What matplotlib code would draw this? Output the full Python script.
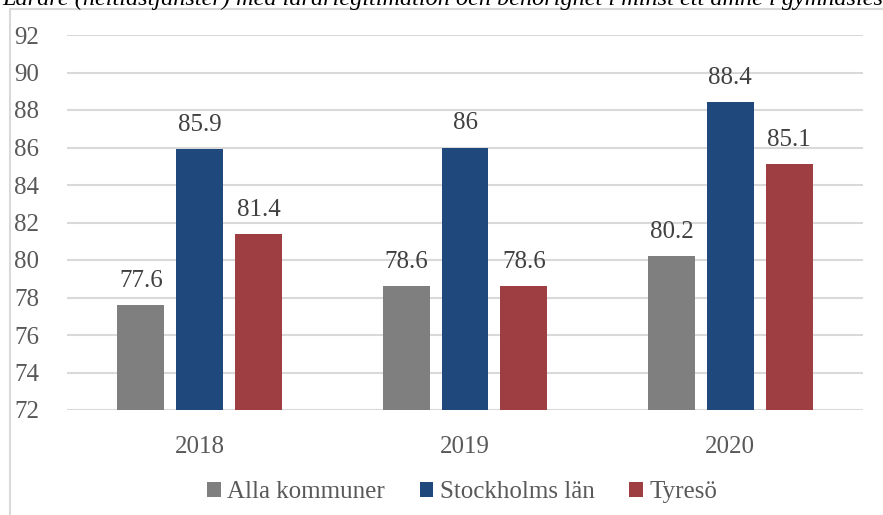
import matplotlib
matplotlib.use("Agg")
import matplotlib.pyplot as plt
import numpy as np
from matplotlib.patches import Rectangle, Patch
from matplotlib.font_manager import FontProperties

years = ["2018", "2019", "2020"]
series_names = ["Alla kommuner", "Stockholms län", "Tyresö"]
alla_kommuner = [77.6, 78.6, 80.2]
stockholms_lan = [85.9, 86.0, 88.4]
tyreso = [81.4, 78.6, 85.1]
value_labels = [["77.6", "78.6", "80.2"], ["85.9", "86", "88.4"], ["81.4", "78.6", "85.1"]]
colors = ["#7f7f7f", "#1f497d", "#9e3e42"]
y_ticks = list(range(72, 93, 2))
caption = "Lärare (heltidstjänster) med lärarlegitimation och behörighet i minst ett ämne i gymnasieskolan"

SERIF = "Liberation Serif"
plt.rcParams["font.family"] = SERIF

W, H = 883, 515
fig = plt.figure(figsize=(W / 100, H / 100), dpi=100)

# outer chart frame (extends past the right and bottom edges)
fig.patches.append(Rectangle((10 / W, -0.05), 1.0, (H - 9) / H + 0.05,
                             transform=fig.transFigure, fill=False,
                             edgecolor="#d9d9d9", linewidth=1.5))

# caption line above the chart, running off the top edge
fig.text(2 / W, 1 - 5 / H, caption, fontsize=17.5, fontstyle="italic",
         family=SERIF, ha="left", va="baseline", color="#000000")

ax = fig.add_axes([67 / W, 1 - 410 / H, (863 - 67) / W, (410 - 35) / H])

x = np.arange(len(years))
width = 0.177
step = 0.222
all_series = [alla_kommuner, stockholms_lan, tyreso]
for i, (vals, col, labs) in enumerate(zip(all_series, colors, value_labels)):
    pos = x + (i - 1) * step
    ax.bar(pos, [v - 72 for v in vals], width, bottom=72, color=col, zorder=3)
    for p, v, t in zip(pos, vals, labs):
        ax.annotate(t, (p, v), xytext=(0, 13), textcoords="offset points",
                    ha="center", va="baseline", fontsize=18, family=SERIF,
                    color="#404040")

ax.set_xlim(-0.5, 2.5)
ax.set_ylim(72, 92)
ax.set_yticks(y_ticks)
ax.set_yticklabels([str(t) for t in y_ticks], family=SERIF)
ax.set_xticks(x)
ax.set_xticklabels(years, family=SERIF)
ax.yaxis.grid(True, color="#d9d9d9", linewidth=1.5, zorder=0)
ax.set_axisbelow(True)
for s in ax.spines.values():
    s.set_visible(False)
ax.tick_params(axis="y", length=0, pad=20, labelsize=18, labelcolor="#595959")
ax.tick_params(axis="x", length=0, pad=19, labelsize=18, labelcolor="#595959")

handles = [Patch(facecolor=c, edgecolor="none") for c in colors]
fig.legend(handles, series_names, loc="center", ncol=3, frameon=False,
           bbox_to_anchor=(462 / W, 1 - 492 / H),
           prop=FontProperties(family=SERIF, size=18),
           handlelength=0.55, handleheight=0.55, handletextpad=0.25,
           columnspacing=1.4, labelcolor="#595959")

fig.savefig("out.png", dpi=100)
